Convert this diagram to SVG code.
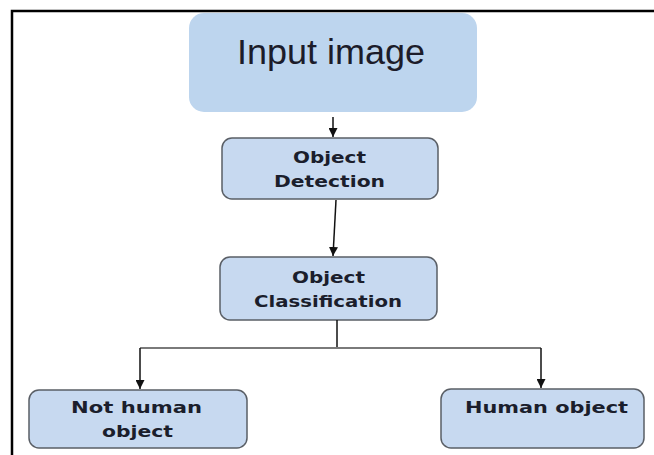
<svg xmlns="http://www.w3.org/2000/svg" width="654" height="455" viewBox="0 0 654 455">
  <style>
    .box { fill: #c7d9f0; stroke: #5a5f66; stroke-width: 1.5; }
    .lbl { font-family: "DejaVu Sans", Verdana, sans-serif; font-weight: bold; font-size: 16px; fill: #1b1e2c; text-anchor: start; }
    .wire { fill: none; stroke: #111; stroke-width: 1.5; }
    .bus { fill: none; stroke: #7a7a7a; stroke-width: 2; }
  </style>
  <defs>
    <marker id="head" viewBox="0 0 10 10" refX="10" refY="5" markerWidth="6" markerHeight="6" orient="auto" markerUnits="strokeWidth">
      <path d="M0,0 L10,5 L0,10 Z" fill="#111"/>
    </marker>
  </defs>

  <rect width="654" height="455" fill="#ffffff"/>
  <!-- outer frame -->
  <path d="M12,455 V11 H654" fill="none" stroke="#000" stroke-width="2.5"/>

  <g id="input-image">
    <rect x="189" y="13" width="288" height="99" rx="15" fill="#bdd5ee"/>
    <text x="237" y="64" textLength="188" lengthAdjust="spacingAndGlyphs" font-family="'Liberation Sans', Arial, sans-serif" font-size="35" fill="#1c1c2a">Input image</text>
  </g>

  <g id="object-detection">
    <rect class="box" x="222" y="138" width="216" height="61" rx="10"/>
    <text class="lbl" x="293" y="163" textLength="73" lengthAdjust="spacingAndGlyphs">Object</text>
    <text class="lbl" x="274" y="187" textLength="111" lengthAdjust="spacingAndGlyphs">Detection</text>
  </g>

  <g id="object-classification">
    <rect class="box" x="220" y="257" width="217" height="63" rx="10"/>
    <text class="lbl" x="292" y="283" textLength="73" lengthAdjust="spacingAndGlyphs">Object</text>
    <text class="lbl" x="254" y="307" textLength="148" lengthAdjust="spacingAndGlyphs">Classification</text>
  </g>

  <g id="not-human-object">
    <rect class="box" x="29" y="390" width="218" height="58" rx="10"/>
    <text class="lbl" x="71" y="413" textLength="131" lengthAdjust="spacingAndGlyphs">Not human</text>
    <text class="lbl" x="102" y="437" textLength="71" lengthAdjust="spacingAndGlyphs">object</text>
  </g>

  <g id="human-object">
    <rect class="box" x="441" y="389" width="203" height="59" rx="10"/>
    <text class="lbl" x="465" y="413" textLength="163" lengthAdjust="spacingAndGlyphs">Human object</text>
  </g>

  <g id="connectors">
    <path class="wire" d="M333,117 V137" marker-end="url(#head)"/>
    <path class="wire" d="M336,200 L333,256" marker-end="url(#head)"/>
    <path class="wire" d="M337,320 V348"/>
    <path class="bus" d="M140,348 H541"/>
    <path class="wire" d="M140,348 V389" marker-end="url(#head)"/>
    <path class="wire" d="M541,348 V388" marker-end="url(#head)"/>
  </g>
</svg>
